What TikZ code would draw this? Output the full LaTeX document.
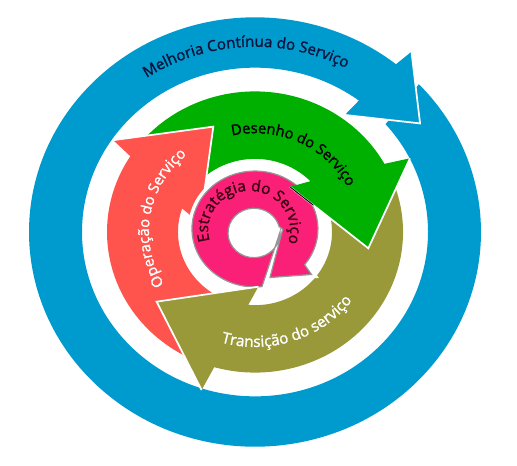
\documentclass[tikz,border=0pt]{standalone}
\usepackage{fontspec}
\setmainfont{Open Sans}
\newfontfamily\labelfont{Open Sans}[FakeBold=1.4]
\usetikzlibrary{decorations.text,calc}
\definecolor{ringblue}{RGB}{0,155,206}
\definecolor{desgreen}{RGB}{0,176,0}
\definecolor{opred}{RGB}{255,83,77}
\definecolor{tranolive}{RGB}{153,153,58}
\definecolor{stratmag}{RGB}{250,32,120}
\definecolor{maggray}{RGB}{150,150,150}
\definecolor{navytext}{RGB}{10,20,60}
\definecolor{strattext}{RGB}{60,0,18}
\tikzset{
  headedge/.style={draw=white,line width=1.3pt,line join=miter},
  magshape/.style={fill=stratmag,draw=maggray,line width=0.9pt,preaction={draw=white,line width=6pt}},
  arctext/.style={decorate,decoration={text along path,text align=center,text color=#1}}
}
\begin{document}
\begin{tikzpicture}[x=0.75pt,y=-0.75pt]
\path[use as bounding box,fill=white] (0,0) rectangle (517,465);
\begin{scope}[shift={(255,232)},x=0.75pt,y=0.7125pt]
  % outer blue ring (Melhoria)
  \fill[ringblue] (50:226) arc[start angle=50,end angle=403.5,radius=226]
     -- (401:173) arc[start angle=401,end angle=52,radius=173] -- cycle;
  \fill[ringblue] (51.4:226) -- (50.5:246) -- (34.7:200.8) -- (53.9:152.5) -- (53.1:173) -- cycle;
  \draw[headedge] (50.5:246) -- (34.7:200.8) -- (53.9:152.5);
  % middle ring bodies
  \fill[opred] (250:148) arc[start angle=250,end angle=146.4,radius=148]
     -- (160.2:77) arc[start angle=160.2,end angle=250,radius=77] -- cycle;
  \fill[desgreen] (140:148) arc[start angle=140,end angle=28,radius=148]
     -- (43:77) arc[start angle=43,end angle=140,radius=77] -- cycle;
  \fill[tranolive] (20:148) arc[start angle=20,end angle=-107,radius=148]
     -- (-96:77) arc[start angle=-96,end angle=20,radius=77] -- cycle;
  % red arrowhead
  \fill[opred] (147.4:148) -- (145.7:171.6) -- (110.6:118.5) -- (170.5:55.8) -- (161.2:77) -- cycle;
  \draw[headedge] (145.7:171.6) -- (110.6:118.5) -- (170.5:55.8);
  % central strategy arrow
  \path[magshape] (49.6,-34.4) arc[start angle=-38,end angle=276.4,x radius=63,y radius=61]
     -- (25.0,-0.1) arc[start angle=2,end angle=-345,radius=26]
     -- (27.7,3.0) -- (15,-47.9) -- (56.5,-44.7) -- cycle;
  % green arrowhead
  \fill[desgreen] (29:148) -- (26.6:173.3) -- (-8.6:114.6) -- (53.7:59) -- (44:77) -- cycle;
  \draw[headedge] (26.6:173.3) -- (-8.6:114.6) -- (53.7:59);
  \draw[black,line width=0.7pt] (53.7:59) -- ($(53.7:59)!0.3!(-8.6:114.6)$);
  % olive arrowhead
  \fill[tranolive] (-106:148) -- (-107.8:174.7) -- (-143.3:122.7) -- (-86.7:57.7) -- (-95:77) -- cycle;
  \draw[headedge] (-107.8:174.7) -- (-143.3:122.7) -- (-86.7:57.7);
  % texts
  \path[arctext=navytext,decoration={text={|\labelfont\fontsize{11.4pt}{13pt}\selectfont|Melhoria Contínua do Serviço}}]
     (150:195) arc[start angle=150,end angle=36,radius=195];
  \path[arctext=black,decoration={text={|\labelfont\fontsize{11pt}{13pt}\selectfont|Desenho do Serviço}}]
     (125:104) arc[start angle=125,end angle=4,radius=104];
  \path[arctext=white,decoration={text={|\labelfont\fontsize{11.2pt}{13pt}\selectfont|Operação do Serviço}}]
     (235:106) arc[start angle=235,end angle=106.6,radius=106];
  \path[arctext=white,decoration={text={|\labelfont\fontsize{11.5pt}{13pt}\selectfont|Transição do serviço}}]
     (-131:121) arc[start angle=-131,end angle=-11,radius=121];
  \path[arctext=strattext,decoration={text={|\labelfont\fontsize{11.6pt}{13pt}\selectfont|Estratégia do Serviço}}]
     (-37.3,-24.1) arc[start angle=220,end angle=-43,radius=41];
\end{scope}
\end{tikzpicture}
\end{document}
